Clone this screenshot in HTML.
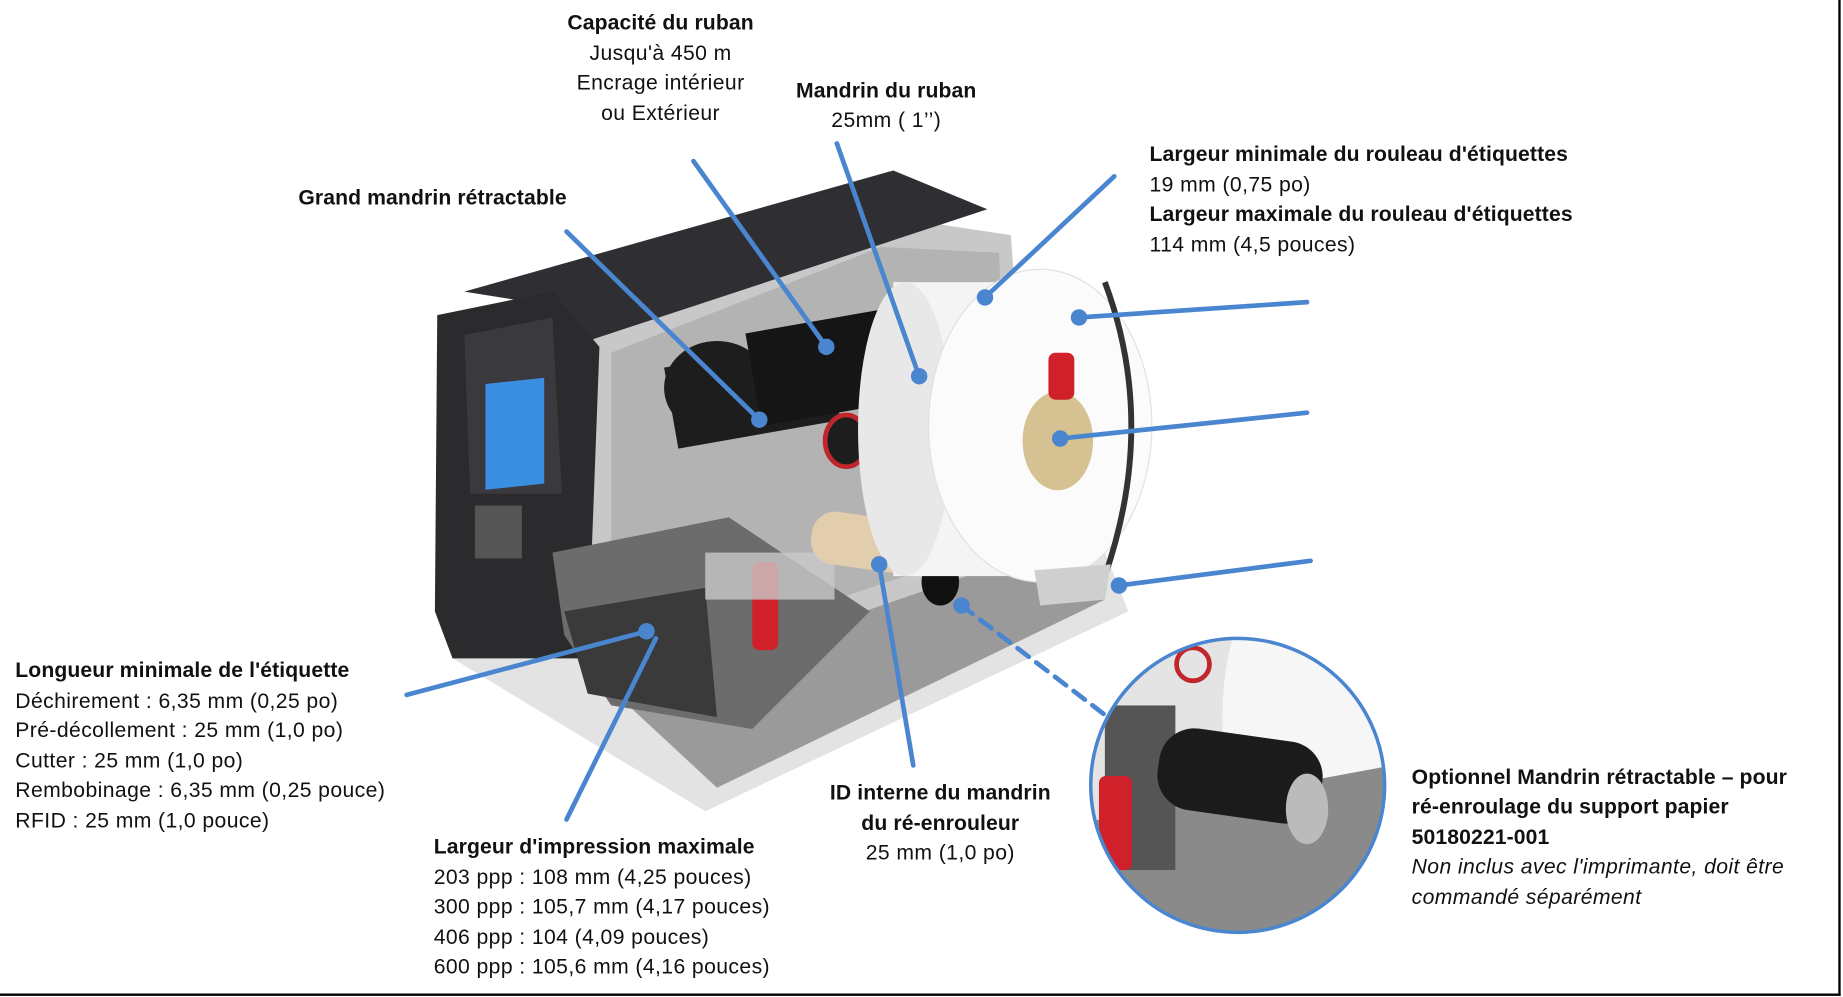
<!DOCTYPE html>
<html><head><meta charset="utf-8"><style>
html,body{margin:0;padding:0;background:#fff;}
svg{display:block;}
text{font-family:"Liberation Sans",sans-serif;font-size:18px;letter-spacing:0.35px;fill:#111;}
.b{font-weight:bold;letter-spacing:0.1px;}
</style></head><body>
<svg width="1843" height="997" viewBox="0 0 1568 848" preserveAspectRatio="none">
<rect x="0" y="0" width="1568" height="848" fill="#fff"/>
<line x1="1565" y1="0" x2="1565" y2="847" stroke="#000" stroke-width="2"/>
<line x1="0" y1="846" x2="1566" y2="846" stroke="#000" stroke-width="2"/>
<!-- printer base -->
<polygon points="385,560 600,690 960,520 940,470 700,430 400,500" fill="#e3e3e3"/>
<polygon points="470,540 610,670 940,510 700,450" fill="#9a9a9a"/>
<!-- main side frame (metal) -->
<polygon points="500,290 760,185 860,200 880,470 620,560 500,480" fill="#c8c8c8"/>
<polygon points="520,300 750,210 850,215 860,460 620,540 520,470" fill="#b3b3b3"/>
<!-- dark top -->
<polygon points="395,248 760,145 840,178 500,290 470,260" fill="#2f2f33"/>
<!-- front dark panel -->
<polygon points="372,268 470,248 510,295 500,560 385,560 370,520" fill="#2b2b2e"/>
<polygon points="395,285 470,270 478,420 400,420" fill="#3a3a3e"/>
<rect x="413" y="325" width="50" height="90" fill="#3b8fe0" transform="skewY(-6) translate(0,45)"/>
<rect x="404" y="430" width="40" height="45" fill="#555"/>
<!-- print mechanism -->
<polygon points="470,470 620,440 740,520 640,620 520,600 480,540" fill="#6c6c6c"/>
<polygon points="480,520 600,500 610,610 500,590" fill="#3a3a3a"/>
<rect x="640" y="478" width="22" height="75" rx="6" fill="#d0202a"/>
<rect x="600" y="470" width="110" height="40" fill="#c9c9c9" opacity="0.8"/>
<!-- ribbon rolls -->
<ellipse cx="610" cy="330" rx="45" ry="40" fill="#1d1d1d"/>
<rect x="570" y="300" width="140" height="70" fill="#1d1d1d" transform="rotate(-10 640 335)"/>
<ellipse cx="720" cy="375" rx="18" ry="22" fill="#1d1d1d" stroke="#c0262c" stroke-width="4"/>
<rect x="640" y="270" width="150" height="80" fill="#151515" transform="rotate(-10 715 310)"/>
<ellipse cx="780" cy="330" rx="28" ry="42" fill="#222" stroke="#d9a96a" stroke-width="3"/>
<!-- take-up core -->
<rect x="690" y="440" width="110" height="45" rx="20" fill="#e2ceac" transform="rotate(8 745 462)"/>
<ellipse cx="800" cy="495" rx="16" ry="20" fill="#111"/>
<!-- label roll -->
<rect x="760" y="240" width="120" height="250" fill="#f4f4f4"/>
<ellipse cx="770" cy="365" rx="40" ry="125" fill="#e8e8e8"/>
<ellipse cx="885" cy="362" rx="95" ry="133" fill="#fbfbfb" stroke="#e0e0e0"/>
<path d="M940,240 Q985,360 940,490" stroke="#333" stroke-width="5" fill="none"/>
<ellipse cx="900" cy="375" rx="30" ry="42" fill="#d6c193"/>
<rect x="892" y="300" width="22" height="40" rx="6" fill="#d0202a"/>
<polygon points="880,485 945,480 940,510 885,515" fill="#cfcfcf"/>
<!-- inset circle -->
<defs><clipPath id="c"><circle cx="1053" cy="668" r="125"/></clipPath></defs>
<g clip-path="url(#c)">
<rect x="920" y="540" width="270" height="260" fill="#e4e4e4"/>
<ellipse cx="1110" cy="610" rx="70" ry="140" fill="#f6f6f6"/>
<polygon points="920,700 1190,650 1190,800 920,800" fill="#8a8a8a"/>
<rect x="940" y="600" width="60" height="140" fill="#555"/>
<rect x="985" y="625" width="140" height="70" rx="30" fill="#1b1b1b" transform="rotate(8 1055 660)"/>
<ellipse cx="1112" cy="688" rx="18" ry="30" fill="#bbb"/>
<rect x="935" y="660" width="28" height="80" rx="6" fill="#d0202a"/>
<circle cx="1015" cy="565" r="14" fill="none" stroke="#c0262c" stroke-width="4"/>
</g>
<circle cx="1053" cy="668" r="125" fill="none" stroke="#4a86d0" stroke-width="3"/>
<!-- connectors -->
<g stroke="#4a86d0" stroke-width="4" fill="none" stroke-linecap="round">
<line x1="482" y1="197" x2="646" y2="357"/>
<line x1="590" y1="137" x2="703" y2="295"/>
<line x1="712" y1="122" x2="782" y2="320"/>
<line x1="948" y1="150" x2="838" y2="253"/>
<line x1="1112" y1="257" x2="918" y2="270"/>
<line x1="1112" y1="351" x2="902" y2="373"/>
<line x1="1115" y1="477" x2="952" y2="498"/>
<line x1="346" y1="591" x2="550" y2="537"/>
<line x1="482" y1="697" x2="558" y2="543"/>
<line x1="777" y1="651" x2="748" y2="480"/>
<line x1="818" y1="515" x2="940" y2="608" stroke-dasharray="12,8"/>
</g>
<g fill="#4a86d0">
<circle cx="646" cy="357" r="7"/><circle cx="703" cy="295" r="7"/><circle cx="782" cy="320" r="7"/>
<circle cx="838" cy="253" r="7"/><circle cx="918" cy="270" r="7"/><circle cx="902" cy="373" r="7"/>
<circle cx="952" cy="498" r="7"/><circle cx="550" cy="537" r="7"/><circle cx="748" cy="480" r="7"/>
<circle cx="818" cy="515" r="7"/>
</g>
<!-- labels -->
<text x="562" y="25" text-anchor="middle" class="b">Capacité du ruban</text>
<text x="562" y="51" text-anchor="middle">Jusqu'à 450 m</text>
<text x="562" y="76" text-anchor="middle">Encrage intérieur</text>
<text x="562" y="102" text-anchor="middle">ou Extérieur</text>
<text x="754" y="83" text-anchor="middle" class="b">Mandrin du ruban</text>
<text x="754" y="108" text-anchor="middle">25mm ( 1’’)</text>
<text x="368" y="174" text-anchor="middle" class="b">Grand mandrin rétractable</text>
<text x="978" y="137" class="b">Largeur minimale du rouleau d'étiquettes</text>
<text x="978" y="163">19 mm (0,75 po)</text>
<text x="978" y="188" class="b">Largeur maximale du rouleau d'étiquettes</text>
<text x="978" y="214">114 mm (4,5 pouces)</text>
<text x="13" y="576" class="b">Longueur minimale de l'étiquette</text>
<text x="13" y="602">Déchirement : 6,35 mm (0,25 po)</text>
<text x="13" y="627">Pré-décollement : 25 mm (1,0 po)</text>
<text x="13" y="653">Cutter : 25 mm (1,0 po)</text>
<text x="13" y="678">Rembobinage : 6,35 mm (0,25 pouce)</text>
<text x="13" y="704">RFID : 25 mm (1,0 pouce)</text>
<text x="369" y="726" class="b">Largeur d'impression maximale</text>
<text x="369" y="752">203 ppp : 108 mm (4,25 pouces)</text>
<text x="369" y="777">300 ppp : 105,7 mm (4,17 pouces)</text>
<text x="369" y="803">406 ppp : 104 (4,09 pouces)</text>
<text x="369" y="828">600 ppp : 105,6 mm (4,16 pouces)</text>
<text x="800" y="680" text-anchor="middle" class="b">ID interne du mandrin</text>
<text x="800" y="706" text-anchor="middle" class="b">du ré-enrouleur</text>
<text x="800" y="731" text-anchor="middle">25 mm (1,0 po)</text>
<text x="1201" y="667" class="b">Optionnel Mandrin rétractable – pour</text>
<text x="1201" y="692" class="b">ré-enroulage du support papier</text>
<text x="1201" y="718" class="b">50180221-001</text>
<text x="1201" y="743" font-style="italic">Non inclus avec l'imprimante, doit être</text>
<text x="1201" y="769" font-style="italic">commandé séparément</text>
</svg>
</body></html>
